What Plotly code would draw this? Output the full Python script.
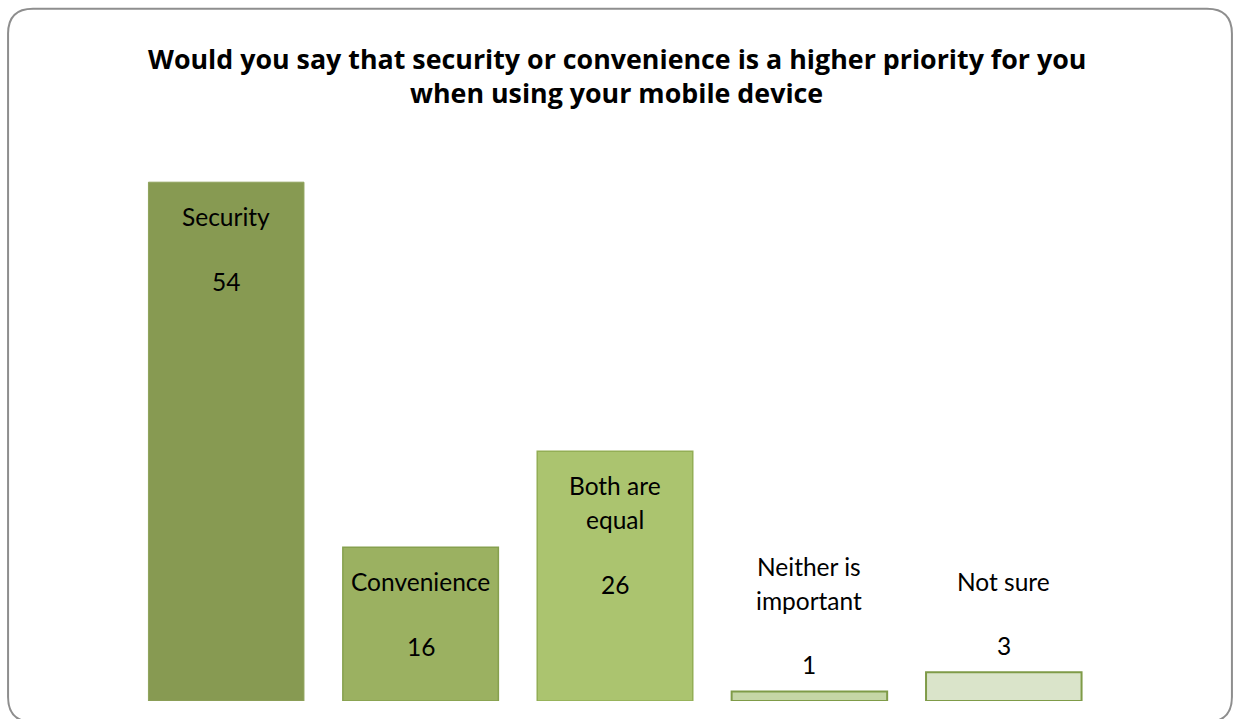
import plotly.graph_objects as go

# Survey responses (percent)
categories = ["Security", "Convenience", "Both are equal", "Neither is important", "Not sure"]
label_lines = [["Security"], ["Convenience"], ["Both are", "equal"], ["Neither is", "important"], ["Not sure"]]
values = [54, 16, 26, 1, 3]
title_lines = [
    "Would you say that security or convenience is a higher priority for you",
    "when using your mobile device",
]

bar_colors = ["#879A52", "#9BB161", "#ABC46F", "#C5D6A6", "#DAE4CA"]
line_colors = ["#8FA35C", "#86A04E", "#93AE55", "#7F9B48", "#7F9B48"]
line_widths = [1, 1.5, 1.5, 2, 2]

W, H = 1233, 719
L, R, T, B = 128.5, 132, 150, 17.5
plot_w = W - L - R
plot_h = H - T - B
y_max = 57.35

FONT = "Lato"
TITLE_FONT = "Open Sans"
LABEL_SIZE = 24.5
LINE_STEP = 34


def px_x(px):
    return (px - L) / plot_w


def px_y(py):
    return (H - B - py) / plot_h


fig = go.Figure(
    go.Bar(
        x=categories,
        y=values,
        width=0.8,
        marker=dict(color=bar_colors, line=dict(color=line_colors, width=line_widths)),
        hoverinfo="skip",
    )
)

annotations = []
for cat, lines, v in zip(categories, label_lines, values):
    inside = v >= 10
    if inside:
        offs = [-(34 + LINE_STEP * i) for i in range(len(lines))]
        val_off = offs[-1] - 65
    else:
        val_off = 27
        offs = [val_off + 64 + LINE_STEP * (len(lines) - 1 - i) for i in range(len(lines))]
    for txt, off in zip(lines, offs):
        annotations.append(dict(x=cat, y=v, text=txt, showarrow=False, yshift=off,
                                yanchor="middle", font=dict(size=LABEL_SIZE, color="#000000", family=FONT)))
    annotations.append(dict(x=cat, y=v, text=str(v), showarrow=False, yshift=val_off,
                            yanchor="middle", font=dict(size=LABEL_SIZE, color="#000000", family=FONT)))

# two-line bold heading
for txt, py in zip(title_lines, [58, 92]):
    annotations.append(dict(x=px_x(616.5), y=px_y(py), xref="paper", yref="paper", text=f"<b>{txt}</b>",
                            showarrow=False, xanchor="center", yanchor="middle",
                            font=dict(family=TITLE_FONT, size=26.8, color="#000000")))

# rounded chart frame
x0, x1, y0, y1, r = 7.5, 1232, 8.5, 722.5, 25
path = (
    f"M {px_x(x0 + r)},{px_y(y0)} L {px_x(x1 - r)},{px_y(y0)} "
    f"Q {px_x(x1)},{px_y(y0)} {px_x(x1)},{px_y(y0 + r)} "
    f"L {px_x(x1)},{px_y(y1 - r)} Q {px_x(x1)},{px_y(y1)} {px_x(x1 - r)},{px_y(y1)} "
    f"L {px_x(x0 + r)},{px_y(y1)} Q {px_x(x0)},{px_y(y1)} {px_x(x0)},{px_y(y1 - r)} "
    f"L {px_x(x0)},{px_y(y0 + r)} Q {px_x(x0)},{px_y(y0)} {px_x(x0 + r)},{px_y(y0)} Z"
)

fig.update_layout(
    width=W,
    height=H,
    margin=dict(l=L, r=R, t=T, b=B),
    paper_bgcolor="#FFFFFF",
    plot_bgcolor="#FFFFFF",
    showlegend=False,
    bargap=0.2,
    xaxis=dict(visible=False, range=[-0.5, len(categories) - 0.5]),
    yaxis=dict(visible=False, range=[0, y_max]),
    annotations=annotations,
    shapes=[dict(type="path", path=path, xref="paper", yref="paper",
                 line=dict(color="#8E8E8E", width=2), fillcolor="rgba(0,0,0,0)", layer="above")],
)

fig.write_html("out.html", config={"displayModeBar": False})
